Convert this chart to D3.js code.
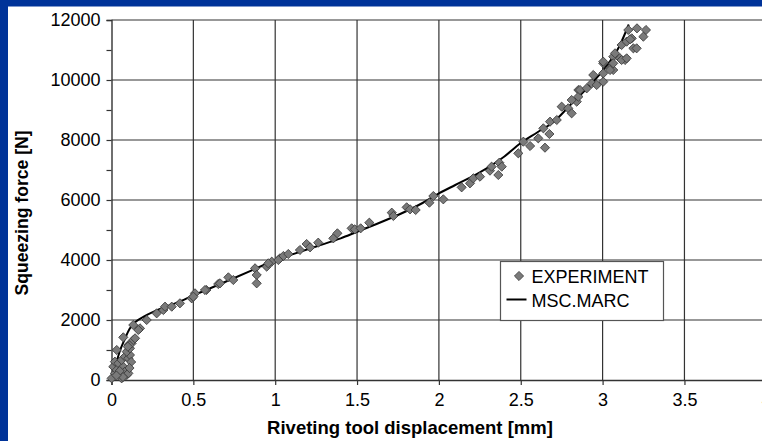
<!DOCTYPE html>
<html><head><meta charset="utf-8">
<script src="https://cdn.jsdelivr.net/npm/d3@7"></script>
<style>
html,body{margin:0;padding:0;background:#fff;}
svg{display:block;}
</style></head>
<body>
<svg id="chart" width="762" height="441"></svg>
<script>
// ---- data ----
const xTicks = [0, 0.5, 1, 1.5, 2, 2.5, 3, 3.5, 4];
const yTicks = [0, 2000, 4000, 6000, 8000, 10000, 12000];
const yMinorTicks = [1000, 3000, 5000, 7000, 9000, 11000];
const xLabel = "Riveting tool displacement [mm]";
const yLabel = "Squeezing force [N]";
const seriesNames = ["EXPERIMENT", "MSC.MARC"];

// MSC.MARC simulation curve
const simX = [0, 0.02, 0.05, 0.08, 0.11, 0.15, 0.2, 0.3, 0.4, 0.5, 0.6, 0.75, 0.9, 1.0, 1.1, 1.25, 1.4, 1.5, 1.6, 1.75, 1.9, 2.0, 2.1, 2.25, 2.4, 2.5, 2.6, 2.7, 2.8, 2.9, 3.0, 3.1, 3.16];
const simF = [0, 380, 950, 1350, 1700, 1950, 2120, 2380, 2580, 2820, 3050, 3400, 3760, 4000, 4180, 4450, 4720, 4940, 5160, 5500, 5900, 6220, 6500, 6920, 7450, 7900, 8250, 8600, 9150, 9700, 10300, 11100, 11850];

// Experimental points
const expX = [0.001, 0.021, 0.011, 0.032, 0.052, 0.062, 0.021, 0.042, 0.072, 0.082, 0.093, 0.103, 0.062, 0.082, 0.103, 0.113, 0.093, 0.113, 0.103, 0.123, 0.133, 0.144, 0.032, 0.072, 0.133, 0.174, 0.164, 0.215, 0.276, 0.317, 0.327, 0.368, 0.418, 0.49, 0.51, 0.58, 0.652, 0.714, 0.744, 0.10, 0.07, 0.05, 0.03, 0.12, 0.11, 0.5, 0.571, 0.663,
  0.877, 0.887, 0.887, 0.948, 0.979, 1.029, 1.05, 1.08, 1.151, 1.192, 1.213, 1.263, 1.355, 1.38, 1.467, 1.487, 1.522, 1.575, 1.712, 1.722, 1.803, 1.824, 1.858, 1.942, 1.966, 2.027, 0.958, 1.019,
  2.139, 2.19, 2.21, 2.251, 2.312, 2.322, 2.369, 2.363, 2.384, 2.485, 2.516, 2.557, 2.607, 2.648, 2.638, 2.675, 2.679, 2.72, 2.75, 2.79, 2.811, 2.842, 2.852, 2.852, 2.811, 2.862, 2.903, 2.934, 2.943, 2.964, 3.004, 3.004, 3.004, 3.045, 3.065, 3.065, 3.076, 3.106, 3.137, 3.116, 3.147, 3.157, 3.178, 3.188, 3.208, 3.21, 3.265, 3.249, 3.168, 3.116, 3.147, 3.065, 3.004, 3.045];
const expF = [56, 222, 444, 333, 167, 56, 611, 556, 444, 278, 167, 222, 667, 778, 722, 833, 944, 1056, 1167, 1222, 1333, 1389, 1000, 1422, 1833, 1722, 1667, 2000, 2222, 2333, 2444, 2444, 2556, 2722, 2889, 3000, 3200, 3422, 3333, 1111, 100, 300, 150, 600, 400, 2778, 3000, 3222,
  3722, 3500, 3222, 3778, 3944, 4056, 4133, 4200, 4333, 4533, 4422, 4578, 4722, 4889, 5056, 5022, 5056, 5244, 5578, 5467, 5756, 5689, 5667, 5911, 6133, 6022, 3889, 4000,
  6422, 6556, 6722, 6778, 6978, 7111, 7244, 6833, 7111, 7556, 7944, 7800, 8056, 7744, 8389, 8200, 8611, 8667, 9111, 9056, 8889, 9278, 9667, 9444, 9333, 9667, 9722, 9889, 10167, 9833, 9944, 10556, 10222, 10389, 10333, 10778, 10889, 10722, 10667, 11167, 11278, 11667, 11389, 11056, 11056, 11722, 11667, 11444, 11356, 10667, 10722, 10556, 10611, 10333];

// ---- chart ----
const svg = d3.select("#chart");
const W = 762, H = 441;
const x = d3.scaleLinear().domain([0, 4]).range([111.5, 766.3]);
const y = d3.scaleLinear().domain([0, 12000]).range([380, 20]);
const font = "'Liberation Sans', Arial, sans-serif";

svg.append("rect").attr("width", W).attr("height", H).attr("fill", "#fff");

// gridlines
const grid = svg.append("g");
grid.selectAll("line.v").data(xTicks.filter(d => d > 0)).enter().append("line")
  .attr("x1", d => x(d)).attr("x2", d => x(d)).attr("y1", y(12000)).attr("y2", y(0))
  .attr("stroke", "#333").attr("stroke-width", 1.2);
grid.selectAll("line.h").data(yTicks.filter(d => d > 0)).enter().append("line")
  .attr("x1", x(0)).attr("x2", W).attr("y1", d => y(d)).attr("y2", d => y(d))
  .attr("stroke", "#333").attr("stroke-width", 1.2);

// axes
const yAxis = svg.append("g").attr("transform", `translate(${x(0)},0)`)
  .call(d3.axisLeft(y).tickValues(yTicks).tickSize(5).tickPadding(6).tickFormat(d => String(d)));
const yMinor = svg.append("g").attr("transform", `translate(${x(0)},0)`)
  .call(d3.axisLeft(y).tickValues(yMinorTicks).tickSize(5).tickFormat(""));
yMinor.select(".domain").remove();
const xAxis = svg.append("g").attr("transform", `translate(0,${y(0)})`)
  .call(d3.axisBottom(x).tickValues(xTicks).tickSize(5).tickPadding(8).tickFormat(d => String(d)));
[yAxis, yMinor, xAxis].forEach(g => {
  g.selectAll("line").attr("stroke", "#333").attr("stroke-width", 1.2);
  g.select(".domain").attr("stroke", "#333").attr("stroke-width", 1.4);
  g.selectAll("text").attr("font-family", font).attr("font-size", 18).attr("fill", "#000");
});

// simulation line
const simData = simX.map((d, i) => [d, simF[i]]);
svg.append("path").datum(simData)
  .attr("d", d3.line().x(d => x(d[0])).y(d => y(d[1])).curve(d3.curveMonotoneX))
  .attr("fill", "none").attr("stroke", "#000").attr("stroke-width", 2);

// experimental points
const expData = expX.map((d, i) => [d, expF[i]]);
const diamond = d3.symbol().type(d3.symbolSquare).size(42);
svg.append("g").selectAll("path").data(expData).enter().append("path")
  .attr("d", diamond)
  .attr("transform", d => `translate(${x(d[0])},${y(d[1])}) rotate(45)`)
  .attr("fill", "#7a7a7a").attr("stroke", "#3a3a3a").attr("stroke-width", 0.8);

// legend
const lg = svg.append("g").attr("transform", "translate(500.5,261.5)");
lg.append("rect").attr("width", 163).attr("height", 59).attr("fill", "#fff")
  .attr("stroke", "#555").attr("stroke-width", 1.2);
lg.append("path").attr("d", diamond).attr("transform", "translate(18.5,14.5) rotate(45)")
  .attr("fill", "#7a7a7a").attr("stroke", "#3a3a3a").attr("stroke-width", 0.8);
lg.append("line").attr("x1", 6).attr("x2", 26).attr("y1", 38).attr("y2", 38)
  .attr("stroke", "#000").attr("stroke-width", 2);
lg.selectAll("text").data(seriesNames).enter().append("text")
  .attr("x", 31).attr("y", (d, i) => 21 + i * 24)
  .attr("font-family", font).attr("font-size", 18).attr("fill", "#000")
  .text(d => d);

// axis titles
svg.append("text").attr("x", 410).attr("y", 434).attr("text-anchor", "middle")
  .attr("font-family", font).attr("font-size", 18.5).attr("font-weight", "bold").text(xLabel);
svg.append("text").attr("transform", "translate(28,213) rotate(-90)").attr("text-anchor", "middle")
  .attr("font-family", font).attr("font-size", 17.6).attr("font-weight", "bold").text(yLabel);

// blue frame
svg.append("rect").attr("x", 0).attr("y", 0).attr("width", W).attr("height", 6.5).attr("fill", "#003399");
svg.append("rect").attr("x", 0).attr("y", 0).attr("width", 8).attr("height", H).attr("fill", "#003399");
</script>
</body></html>
